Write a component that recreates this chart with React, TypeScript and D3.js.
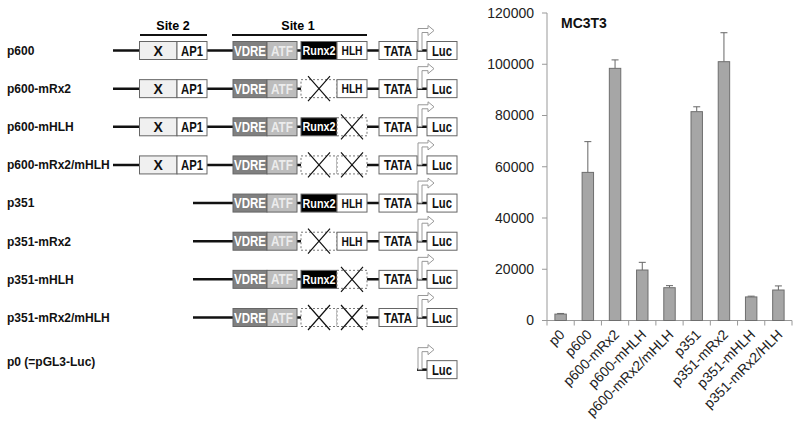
import React, { useRef, useEffect } from "react";
import * as d3 from "d3";

// promoter constructs (left diagram)
const constructs = [
  "p600",
  "p600-mRx2",
  "p600-mHLH",
  "p600-mRx2/mHLH",
  "p351",
  "p351-mRx2",
  "p351-mHLH",
  "p351-mRx2/mHLH",
  "p0 (=pGL3-Luc)",
];
const hasSite2 = [true, true, true, true, false, false, false, false, false];
const hasSite1 = [true, true, true, true, true, true, true, true, false];
const runx2Mutated = [false, true, false, true, false, true, false, true, false];
const hlhMutated = [false, false, true, true, false, false, true, true, false];

// luciferase activity (right chart)
const categories = [
  "p0",
  "p600",
  "p600-mRx2",
  "p600-mHLH",
  "p600-mRx2/mHLH",
  "p351",
  "p351-mRx2",
  "p351-mHLH",
  "p351-mRx2/HLH",
];
const activity = [2500, 57800, 98400, 19700, 12800, 81500, 101000, 9200, 11900];
const activityErr = [250, 12000, 3300, 3000, 800, 1900, 11300, 300, 1600];
const yTicks = [0, 20000, 40000, 60000, 80000, 100000, 120000];
const chartTitle = "MC3T3";

const App = () => {
  const ref = useRef<SVGSVGElement>(null);

  useEffect(() => {
    const width = 800;
    const height = 432;
    const svg = d3.select(ref.current);
    svg.selectAll("*").remove();
    svg.attr("viewBox", [0, 0, width, height]).attr("width", width).attr("height", height);

    const font = "Arial, 'Liberation Sans', sans-serif";

    // ---------- left: construct diagram ----------
    const diag = svg.append("g").style("font-family", font);
    const rowY = d3.scaleLinear().domain([0, 7]).range([50.5, 317.5]);
    const half = 9;

    // site headers
    const sites = [
      { label: "Site 2", x0: 140, x1: 207, tx: 173 },
      { label: "Site 1", x0: 232, x1: 367, tx: 298 },
    ];
    sites.forEach((s) => {
      diag.append("line")
        .attr("x1", s.x0).attr("x2", s.x1).attr("y1", 35).attr("y2", 35)
        .attr("stroke", "#111").attr("stroke-width", 2);
      diag.append("text")
        .attr("x", s.tx).attr("y", 30)
        .attr("text-anchor", "middle")
        .attr("font-size", 12.5).attr("font-weight", "bold")
        .text(s.label);
    });

    const box = (g, x0, x1, cy, fill, label, color, tl, fs = 14, dashed = false) => {
      g.append("rect")
        .attr("x", x0).attr("y", cy - half)
        .attr("width", x1 - x0).attr("height", half * 2)
        .attr("fill", fill)
        .attr("stroke", dashed ? "#777" : "#666")
        .attr("stroke-width", 1)
        .attr("stroke-dasharray", dashed ? "2,2" : null);
      if (label) {
        const t = g.append("text")
          .attr("x", (x0 + x1) / 2).attr("y", cy)
          .attr("dy", "0.36em")
          .attr("text-anchor", "middle")
          .attr("font-size", fs).attr("font-weight", "bold")
          .attr("fill", color)
          .text(label);
        if (tl) t.attr("textLength", tl).attr("lengthAdjust", "spacingAndGlyphs");
      }
      if (dashed) {
        const cx = (x0 + x1) / 2;
        g.append("path")
          .attr("d", `M${cx - 11},${cy - 12.5}L${cx + 11},${cy + 12.5}M${cx + 11},${cy - 12.5}L${cx - 11},${cy + 12.5}`)
          .attr("stroke", "#111").attr("stroke-width", 1.2).attr("fill", "none");
      }
    };

    const arrow = (g, cy) => {
      const pts = [
        [418, cy], [418, cy - 22], [428, cy - 22], [428, cy - 25],
        [434, cy - 20], [428, cy - 15], [428, cy - 18], [422, cy - 18], [422, cy],
      ];
      g.append("path")
        .attr("d", d3.line()(pts) + "Z")
        .attr("fill", "#fff").attr("stroke", "#999").attr("stroke-width", 1);
    };

    constructs.forEach((name, i) => {
      const isP0 = !hasSite1[i];
      const cy = isP0 ? rowY(8) + 14 : rowY(i);
      const g = diag.append("g");
      g.append("text")
        .attr("x", 7).attr("y", isP0 ? cy - 8 : cy)
        .attr("dy", "0.36em")
        .attr("font-size", 12).attr("font-weight", "bold")
        .attr("fill", "#111")
        .text(name);

      const start = hasSite2[i] ? 113 : hasSite1[i] ? 193 : 417;
      g.append("line")
        .attr("x1", start).attr("x2", 427).attr("y1", cy).attr("y2", cy)
        .attr("stroke", "#111").attr("stroke-width", 2.5);

      arrow(g, cy);

      if (hasSite2[i]) {
        box(g, 139.5, 177, cy, "#f0f0f0", "X", "#111", null);
        box(g, 177, 207, cy, "#fff", "AP1", "#111", 22);
      }
      if (hasSite1[i]) {
        box(g, 233, 267, cy, "#808080", "VDRE", "#fff", 32);
        box(g, 267, 297, cy, "#bdbdbd", "ATF", "#ececec", 22);
        if (runx2Mutated[i]) box(g, 301, 337, cy, "#fff", null, null, null, 14, true);
        else box(g, 301, 337, cy, "#000", "Runx2", "#fff", 33, 12.5);
        if (hlhMutated[i]) box(g, 337, 367, cy, "#fff", null, null, null, 14, true);
        else box(g, 337, 367, cy, "#fff", "HLH", "#111", 21, 12.5);
        box(g, 379, 417, cy, "#fff", "TATA", "#111", 28);
      }
      box(g, 427, 457, cy, "#fff", "Luc", "#111", 20);
    });

    // ---------- right: bar chart ----------
    const chart = svg.append("g").style("font-family", font);
    const left = 547;
    const right = 792;
    const x = d3.scaleBand()
      .domain(categories)
      .range([left, right])
      .paddingInner(0.58)
      .paddingOuter(0.29);
    const y = d3.scaleLinear().domain([0, 120000]).range([320.5, 13]);
    const step = x.step();

    // y axis
    chart.append("line")
      .attr("x1", left).attr("x2", left).attr("y1", y(120000)).attr("y2", y(0))
      .attr("stroke", "#999");
    yTicks.forEach((t) => {
      chart.append("line")
        .attr("x1", left - 5).attr("x2", left).attr("y1", y(t)).attr("y2", y(t))
        .attr("stroke", "#999");
      chart.append("text")
        .attr("x", 534).attr("y", y(t)).attr("dy", "0.35em")
        .attr("text-anchor", "end")
        .attr("font-size", 14).attr("fill", "#222")
        .text(t);
    });

    // x axis
    chart.append("line")
      .attr("x1", left).attr("x2", right).attr("y1", y(0)).attr("y2", y(0))
      .attr("stroke", "#999");
    d3.range(categories.length + 1).forEach((k) => {
      const tx = left + k * step;
      chart.append("line")
        .attr("x1", tx).attr("x2", tx).attr("y1", y(0)).attr("y2", y(0) + 5)
        .attr("stroke", "#999");
    });

    // bars + error bars
    categories.forEach((c, i) => {
      const bx = x(c);
      const cx = bx + x.bandwidth() / 2;
      chart.append("line")
        .attr("x1", cx).attr("x2", cx)
        .attr("y1", y(activity[i])).attr("y2", y(activity[i] + activityErr[i]))
        .attr("stroke", "#666");
      chart.append("line")
        .attr("x1", cx - 3.5).attr("x2", cx + 3.5)
        .attr("y1", y(activity[i] + activityErr[i])).attr("y2", y(activity[i] + activityErr[i]))
        .attr("stroke", "#666");
      chart.append("rect")
        .attr("x", bx).attr("y", y(activity[i]))
        .attr("width", x.bandwidth()).attr("height", y(0) - y(activity[i]))
        .attr("fill", "#a6a6a6").attr("stroke", "#6e6e6e").attr("stroke-width", 1);
      chart.append("text")
        .attr("transform", `translate(${cx + 5},${y(0) + 15}) rotate(-45)`)
        .attr("text-anchor", "end")
        .attr("font-size", 14).attr("fill", "#222")
        .text(c);
    });

    chart.append("text")
      .attr("x", 561).attr("y", 28)
      .attr("font-size", 14).attr("font-weight", "bold")
      .attr("fill", "#111")
      .text(chartTitle);
  }, []);

  return (
    <svg
      ref={ref}
      style={{ position: "absolute", left: 0, top: 0, background: "#fff" }}
    />
  );
};

export default App;
